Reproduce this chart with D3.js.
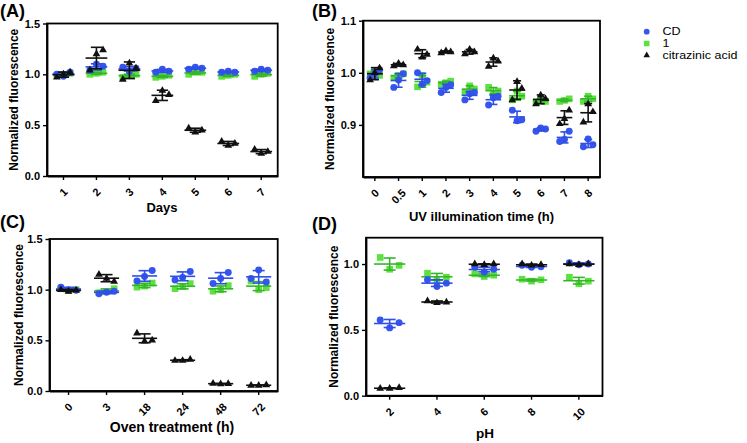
<!DOCTYPE html>
<html><head><meta charset="utf-8">
<script src="https://cdn.jsdelivr.net/npm/d3@7/dist/d3.min.js"></script>
<style>
body{margin:0;background:#fff}
svg text{font-family:"Liberation Sans",Arial,Helvetica,sans-serif}
</style>
</head><body>
<svg id="chart" width="747" height="443"></svg>
<script>
// ---------- DATA ----------
// Panel A: days
const daysCats = ["1","2","3","4","5","6","7"];
const daysCD  = [[1.00,0.98,1.02],[1.04,1.10,1.08],[1.07,1.03,1.06],[1.02,1.05,1.03],[1.05,1.07,1.06],[1.02,1.03,1.02],[1.03,1.05,1.04]];
const daysOne = [[0.99,1.00,1.01],[1.00,1.01,1.02],[0.97,0.99,1.00],[0.97,0.98,0.99],[1.00,1.02,1.02],[0.98,0.99,1.00],[0.98,1.00,1.01]];
const daysCA  = [[0.97,1.00,1.02],[1.04,1.20,1.24],[0.95,1.11,1.06],[0.74,0.84,0.80],[0.47,0.43,0.45],[0.34,0.30,0.32],[0.26,0.22,0.24]];
const daysTicks = [0.0,0.5,1.0,1.5];

// Panel B: UV illumination time
const uvCats = ["0","0.5","1","2","3","4","5","6","7","8"];
const uvCD  = [[0.990,0.998,1.006],[0.972,0.986,0.998],[1.000,0.978,0.985],[0.962,0.972,0.977],[0.948,0.960,0.962],[0.938,0.952,0.955],[0.928,0.908,0.910],[0.888,0.894,0.892],[0.868,0.872,0.888],[0.858,0.873,0.862]];
const uvOne = [[0.998,1.003,0.995],[0.990,0.995,0.998],[0.973,0.995,0.982],[0.978,0.981,0.984],[0.962,0.975,0.969],[0.972,0.960,0.965],[0.948,0.965,0.955],[0.943,0.950,0.945],[0.945,0.947,0.950],[0.945,0.955,0.950]];
const uvCA  = [[0.986,1.000,1.009],[1.013,1.018,1.015],[1.045,1.030,1.035],[1.038,1.042,1.040],[1.036,1.045,1.040],[1.012,1.028,1.022],[0.948,0.983,0.970],[0.940,0.957,0.950],[0.902,0.912,0.928],[0.905,0.940,0.925]];
const uvTicks = [0.9,1.0,1.1];

// Panel C: oven treatment
const ovenCats = ["0","3","18","24","48","72"];
const ovenCD  = [[1.025,1.000,0.995],[0.960,0.975,0.985],[1.086,1.130,1.190],[1.095,1.120,1.180],[1.060,1.110,1.170],[1.110,1.195,1.075]];
const ovenOne = [[1.010,0.990,1.000],[0.970,0.980,1.010],[1.025,1.035,1.065],[1.010,1.030,1.060],[0.985,1.000,1.040],[1.085,1.000,1.020]];
const ovenCA  = [[1.000,0.983,0.995],[1.150,1.110,1.080],[0.570,0.490,0.500],[0.300,0.300,0.310],[0.075,0.070,0.072],[0.055,0.055,0.060]];
const ovenTicks = [0.0,0.5,1.0,1.5];

// Panel D: pH
const phCats = ["2","4","6","8","10"];
const phCD  = [[0.575,0.515,0.555],[0.880,0.830,0.855],[0.975,0.940,0.960],[0.990,0.975,0.980],[1.010,0.995,1.000]];
const phOne = [[1.050,0.960,0.990],[0.930,0.880,0.900],[0.925,0.905,0.915],[0.885,0.870,0.880],[0.900,0.850,0.870]];
const phCA  = [[0.055,0.055,0.060],[0.720,0.705,0.710],[1.000,0.995,1.000],[1.000,0.990,0.995],[1.000,0.995,1.000]];
const phTicks = [0.0,0.5,1.0];

const seriesNames = ["CD","1","citrazinic acid"];

// ---------- STYLE ----------
const COL = {
  CD:  {fill:"#3556ee", line:"#2f4fe6", sym:d3.symbolCircle,   size:38},
  one: {fill:"#5be23c", line:"#35b52b", sym:d3.symbolSquare,   size:44},
  CA:  {fill:"#111111", line:"#111111", sym:d3.symbolTriangle, size:26}
};

const svg = d3.select("#chart");

function panel(cfg){
  const g = svg.append("g");
  const x = d3.scaleBand().domain(cfg.cats).range([cfg.l, cfg.r]);
  const y = d3.scaleLinear().domain(cfg.dom).range([cfg.b, cfg.t]);
  const bw = x.bandwidth();

  // frame
  g.append("rect").attr("x",cfg.l).attr("y",cfg.t)
    .attr("width",cfg.r-cfg.l).attr("height",cfg.b-cfg.t)
    .attr("fill","none").attr("stroke","#000").attr("stroke-width",1.8);

  // y axis
  const ya = g.append("g").attr("transform",`translate(${cfg.l},0)`)
    .call(d3.axisLeft(y).tickValues(cfg.ticks).tickFormat(d3.format(".1f")).tickSize(4).tickSizeOuter(0).tickPadding(3));
  ya.select(".domain").attr("stroke-width",1.8);
  ya.selectAll(".tick line").attr("stroke-width",1.4);
  ya.selectAll(".tick text").attr("font-size",11).attr("font-weight","bold").attr("fill","#000")
    .style("font-family","'Liberation Sans',Arial,sans-serif");

  // x axis
  const xa = g.append("g").attr("transform",`translate(0,${cfg.b})`)
    .call(d3.axisBottom(x).tickSize(4).tickSizeOuter(0));
  xa.select(".domain").attr("stroke-width",1.8);
  xa.selectAll(".tick line").attr("stroke-width",1.4);
  xa.selectAll(".tick text").attr("font-size",11).attr("font-weight","bold").attr("fill","#000")
    .style("font-family","'Liberation Sans',Arial,sans-serif")
    .attr("y",0).attr("dy","0.35em").attr("text-anchor","middle")
    .each(function(){
      const w = this.getComputedTextLength();
      const cy = 10.5 + 0.354*w + 3.5;
      d3.select(this).attr("transform",`translate(0,${cy}) rotate(-45)`);
    });

  // series
  const jit = bw*0.2, meanW = bw*0.33, capW = Math.min(6, bw*0.17);
  cfg.series.forEach(s=>{
    const st = COL[s.key];
    const sg = g.append("g");
    s.data.forEach((vals,i)=>{
      const cx = x(cfg.cats[i]) + bw/2;
      vals.forEach((v,j)=>{
        sg.append("path").attr("d", d3.symbol().type(st.sym).size(st.size)())
          .attr("transform",`translate(${cx+(j-1)*jit},${y(v)})`)
          .attr("fill",st.fill);
      });
    });
    s.data.forEach((vals,i)=>{
      const cx = x(cfg.cats[i]) + bw/2;
      const m = d3.mean(vals), sd = d3.deviation(vals);
      const lg = sg.append("g").attr("stroke",st.line).attr("stroke-width",1.6).attr("fill","none");
      lg.append("line").attr("x1",cx).attr("x2",cx).attr("y1",y(m-sd)).attr("y2",y(m+sd));
      lg.append("line").attr("x1",cx-capW).attr("x2",cx+capW).attr("y1",y(m-sd)).attr("y2",y(m-sd));
      lg.append("line").attr("x1",cx-capW).attr("x2",cx+capW).attr("y1",y(m+sd)).attr("y2",y(m+sd));
      lg.append("line").attr("x1",cx-meanW).attr("x2",cx+meanW).attr("y1",y(m)).attr("y2",y(m));
    });
  });

  // titles
  g.append("text").attr("transform",`translate(${cfg.ylx},${(cfg.t+cfg.b)/2}) rotate(-90)`)
    .attr("text-anchor","middle").attr("font-size",12).attr("font-weight","bold")
    .text("Normalized fluorescence");
  g.append("text").attr("x",cfg.xlx).attr("y",cfg.xly)
    .attr("text-anchor","middle").attr("font-size",cfg.xfs).attr("font-weight","bold")
    .text(cfg.xlabel);
  g.append("text").attr("x",cfg.px).attr("y",cfg.py)
    .attr("font-size",18).attr("font-weight","bold").text(cfg.plabel);
}

panel({cats:daysCats, dom:[0,1.5], ticks:daysTicks, l:47, r:277.7, t:23.5, b:176,
  series:[{key:"one",data:daysOne},{key:"CD",data:daysCD},{key:"CA",data:daysCA}],
  ylx:18, xlabel:"Days", xfs:13, xlx:162, xly:212, plabel:"(A)", px:0, py:17});

panel({cats:uvCats, dom:[0.8,1.1], ticks:uvTicks, l:363, r:600, t:20.7, b:177,
  series:[{key:"one",data:uvOne},{key:"CD",data:uvCD},{key:"CA",data:uvCA}],
  ylx:333.5, xlabel:"UV illumination time (h)", xfs:13, xlx:481.5, xly:220.5, plabel:"(B)", px:312, py:17});

panel({cats:ovenCats, dom:[0,1.5], ticks:ovenTicks, l:49.5, r:277.7, t:239, b:391,
  series:[{key:"one",data:ovenOne},{key:"CD",data:ovenCD},{key:"CA",data:ovenCA}],
  ylx:22.5, xlabel:"Oven treatment (h)", xfs:14, xlx:172, xly:432, plabel:"(C)", px:0, py:228});

panel({cats:phCats, dom:[0,1.2], ticks:phTicks, l:366, r:602.5, t:237.7, b:395.7,
  series:[{key:"one",data:phOne},{key:"CD",data:phCD},{key:"CA",data:phCA}],
  ylx:338, xlabel:"pH", xfs:13.5, xlx:485, xly:437.5, plabel:"(D)", px:312, py:230});

// legend
const legKeys = ["CD","one","CA"];
const lg = svg.append("g");
seriesNames.forEach((name,i)=>{
  const st = COL[legKeys[i]];
  const yy = 31.7 + i*11.8;
  lg.append("path").attr("d", d3.symbol().type(st.sym).size(st.size*0.7)())
    .attr("transform",`translate(646.7,${yy})`).attr("fill",st.fill);
  lg.append("text").attr("transform",`translate(662.5,${yy}) scale(1.25,1)`)
    .attr("dy","0.35em").attr("font-size",10).text(name);
});
</script>
</body></html>
